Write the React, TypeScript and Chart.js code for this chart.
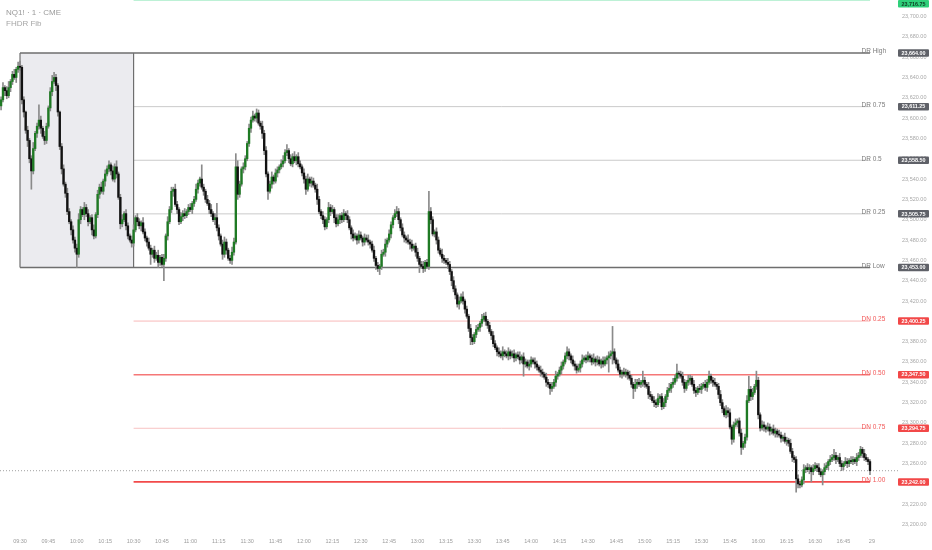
import React, { useEffect, useRef } from 'react';
import { Chart, registerables } from 'chart.js';

Chart.register(...registerables);

// ---------- DATA ----------
// minutes relative to 09:30 of the first candle
const START_MINUTE = -10;
const FIRST_OPEN = 23612;

const closes = [
  23618, 23630, 23627, 23622, 23630, 23636, 23643, 23640, 23648, 23651,
  23650, 23618, 23606, 23588, 23578, 23560, 23548, 23570, 23585, 23592,
  23598, 23590, 23582, 23578, 23592, 23610, 23626, 23636, 23640, 23632,
  23606, 23572, 23550, 23535, 23526, 23508, 23498, 23490, 23480, 23472,
  23466, 23500, 23510, 23505, 23512, 23506, 23498, 23502, 23490, 23484,
  23505, 23525, 23532, 23528, 23538, 23545, 23550, 23554, 23548, 23540,
  23552, 23545, 23522, 23496, 23500, 23506, 23494, 23484, 23480, 23477,
  23490, 23502, 23498, 23494, 23497, 23488, 23482, 23478, 23472, 23466,
  23470, 23462, 23465, 23458, 23463, 23456, 23462, 23484, 23498, 23510,
  23528, 23530, 23515, 23510, 23498, 23503, 23506, 23504, 23508, 23512,
  23510, 23516, 23520, 23530, 23536, 23540, 23532, 23528, 23520, 23516,
  23510, 23506, 23500, 23502, 23492, 23484, 23476, 23466, 23478, 23470,
  23462, 23460, 23468, 23478, 23552, 23525, 23535, 23550, 23552, 23560,
  23575, 23590, 23598, 23602, 23600, 23605, 23595, 23592, 23585, 23568,
  23545, 23528, 23535, 23542, 23538, 23546, 23549, 23552, 23555, 23558,
  23566, 23568, 23560, 23555, 23562, 23558, 23562, 23555, 23552, 23546,
  23540, 23530, 23540, 23536, 23538, 23534, 23530, 23520, 23508, 23504,
  23500, 23493, 23500, 23512, 23508, 23510, 23502, 23496, 23500, 23504,
  23500, 23506, 23504, 23500, 23492, 23486, 23482, 23484, 23480, 23485,
  23482, 23478, 23482, 23480, 23478, 23476, 23470, 23462, 23455, 23452,
  23454, 23466, 23468, 23476, 23480, 23486, 23495, 23502, 23506, 23508,
  23500, 23492, 23485, 23482, 23480, 23478, 23476, 23472, 23474, 23468,
  23462, 23456, 23454, 23452, 23458, 23454, 23508, 23500, 23486, 23488,
  23480, 23470, 23466, 23462, 23460, 23458, 23456, 23449, 23440, 23432,
  23426, 23417, 23420, 23424, 23420, 23412, 23405, 23393, 23384, 23380,
  23387, 23392, 23394, 23398, 23402, 23405, 23400, 23396, 23390, 23386,
  23378, 23374, 23370, 23368, 23366, 23370, 23368, 23366, 23370, 23366,
  23368, 23364, 23367, 23365, 23362, 23365, 23358, 23360, 23356, 23358,
  23362, 23360, 23358, 23355, 23352, 23350, 23348, 23345, 23340, 23338,
  23334, 23336, 23340, 23346, 23348, 23352, 23356, 23360, 23366, 23370,
  23366, 23362, 23358, 23356, 23352, 23354, 23358, 23362, 23364, 23362,
  23366, 23364, 23360, 23363, 23360, 23362, 23358, 23361, 23358, 23362,
  23364, 23366, 23368, 23370, 23362, 23358, 23352, 23348, 23350, 23348,
  23350, 23347, 23344, 23338, 23334, 23338, 23340, 23338, 23340, 23342,
  23338, 23336, 23328, 23326, 23322, 23320, 23318, 23324, 23326, 23316,
  23320, 23326, 23332, 23334, 23338, 23340, 23344, 23349, 23348, 23346,
  23340, 23334, 23340, 23342, 23344, 23338, 23332, 23330, 23334, 23333,
  23336, 23338, 23335, 23340, 23346, 23342, 23340, 23338, 23336, 23328,
  23320, 23314, 23308, 23312, 23310, 23296, 23284, 23298, 23300, 23302,
  23290, 23276, 23280, 23286, 23322, 23333, 23326, 23330, 23336, 23342,
  23308, 23295, 23298, 23296, 23294, 23296, 23292, 23294, 23290, 23292,
  23289, 23288, 23285, 23286, 23282, 23283, 23280, 23272, 23266, 23264,
  23245, 23240, 23239, 23244, 23254, 23256, 23254, 23256, 23252, 23255,
  23258, 23256, 23252, 23249, 23252, 23256, 23258, 23262, 23264, 23266,
  23268, 23264, 23266, 23260, 23257, 23260, 23262, 23260, 23263, 23262,
  23264, 23262, 23266, 23268, 23274, 23270, 23266, 23264, 23262, 23253,
];

// upper wick length (points above the body)
const upperWicks = [
  3, 5, 2, 4, 6, 2, 3, 5, 2, 4,
  5, 2, 3, 1, 4, 2, 3, 6, 2, 3,
  15, 4, 2, 5, 3, 2, 4, 6, 5, 3,
  2, 1, 3, 4, 2, 5, 3, 2, 4, 3,
  4, 6, 3, 2, 5, 3, 4, 2, 3, 5,
  2, 4, 3, 5, 2, 4, 3, 4, 2, 5,
  3, 6, 2, 3, 5, 2, 4, 3, 2, 4,
  5, 2, 4, 3, 2, 5, 3, 2, 4, 3,
  2, 4, 3, 5, 2, 3, 4, 2, 5, 3,
  4, 2, 5, 3, 2, 4, 3, 5, 2, 3,
  4, 2, 3, 5, 3, 2, 14, 3, 2, 4,
  3, 5, 2, 4, 14, 3, 2, 4, 5, 3,
  2, 3, 5, 4, 13, 6, 3, 2, 4, 3,
  2, 4, 3, 5, 2, 4, 3, 2, 5, 3,
  4, 2, 3, 5, 2, 4, 3, 2, 4, 5,
  3, 6, 2, 4, 3, 5, 2, 4, 3, 2,
  4, 3, 5, 2, 4, 3, 2, 5, 3, 2,
  4, 3, 2, 5, 3, 4, 2, 3, 5, 2,
  3, 4, 2, 5, 3, 2, 4, 3, 2, 4,
  3, 2, 4, 3, 5, 2, 3, 4, 2, 3,
  2, 4, 3, 5, 2, 4, 3, 2, 4, 5,
  3, 2, 4, 3, 2, 5, 3, 4, 2, 3,
  4, 2, 3, 5, 2, 3, 20, 4, 3, 2,
  4, 3, 2, 5, 3, 2, 4, 3, 2, 4,
  3, 2, 4, 3, 5, 2, 3, 2, 4, 3,
  2, 4, 3, 2, 5, 3, 4, 2, 3, 2,
  4, 3, 2, 4, 3, 5, 2, 3, 4, 2,
  3, 4, 2, 3, 5, 2, 4, 3, 2, 4,
  3, 2, 4, 3, 2, 4, 3, 2, 4, 3,
  2, 4, 3, 5, 2, 3, 4, 2, 3, 5,
  3, 2, 4, 3, 2, 4, 3, 5, 2, 3,
  4, 2, 3, 5, 2, 4, 3, 2, 4, 3,
  2, 4, 3, 25, 3, 2, 4, 3, 2, 4,
  3, 2, 4, 3, 2, 5, 3, 4, 2, 9,
  3, 2, 4, 3, 2, 4, 3, 5, 2, 3,
  4, 2, 3, 5, 2, 4, 3, 9, 2, 3,
  4, 3, 2, 5, 3, 2, 4, 3, 2, 4,
  3, 2, 4, 3, 5, 2, 3, 4, 2, 3,
  4, 3, 2, 5, 3, 4, 2, 3, 4, 2,
  3, 4, 2, 3, 5, 13, 3, 4, 2, 9,
  3, 2, 4, 3, 2, 4, 3, 2, 4, 3,
  2, 4, 3, 2, 4, 3, 2, 4, 3, 2,
  3, 4, 2, 3, 5, 2, 4, 3, 2, 4,
  3, 2, 4, 3, 2, 4, 3, 2, 4, 3,
  6, 3, 2, 4, 3, 2, 4, 3, 2, 4,
  3, 2, 4, 3, 3, 2, 4, 3, 2, 2,
];

// lower wick length (points below the body)
const lowerWicks = [
  4, 2, 5, 3, 2, 4, 3, 2, 5, 3,
  3, 4, 5, 3, 6, 4, 18, 3, 2, 4,
  3, 5, 2, 4, 3, 2, 3, 4, 2, 5,
  4, 3, 5, 2, 4, 3, 2, 5, 3, 4,
  13, 3, 4, 2, 5, 3, 4, 2, 5, 3,
  2, 3, 4, 2, 3, 5, 2, 3, 4, 2,
  3, 4, 2, 5, 3, 2, 4, 3, 2, 4,
  3, 2, 4, 3, 5, 2, 3, 4, 2, 10,
  3, 4, 2, 5, 3, 2, 16, 3, 4, 2,
  3, 5, 2, 4, 3, 2, 4, 3, 2, 3,
  2, 4, 3, 2, 4, 3, 2, 4, 3, 2,
  4, 3, 2, 5, 3, 4, 2, 5, 3, 4,
  2, 3, 4, 3, 2, 5, 3, 2, 4, 3,
  2, 3, 4, 2, 3, 4, 2, 3, 5, 4,
  3, 8, 2, 4, 3, 2, 4, 3, 2, 3,
  2, 3, 4, 2, 3, 2, 4, 3, 2, 3,
  4, 5, 2, 3, 4, 2, 3, 5, 2, 3,
  4, 3, 2, 3, 4, 2, 5, 3, 2, 4,
  3, 2, 4, 3, 2, 5, 3, 2, 4, 3,
  2, 4, 3, 2, 3, 4, 2, 3, 4, 3,
  6, 3, 2, 4, 3, 2, 4, 3, 2, 3,
  4, 3, 2, 4, 3, 2, 5, 3, 2, 4,
  3, 8, 2, 4, 3, 2, 3, 4, 2, 3,
  4, 3, 2, 4, 3, 2, 4, 3, 5, 3,
  4, 3, 5, 2, 3, 4, 2, 3, 7, 3,
  2, 3, 2, 4, 3, 2, 4, 3, 2, 4,
  3, 2, 4, 3, 2, 4, 3, 2, 4, 3,
  2, 4, 3, 2, 4, 3, 12, 3, 2, 4,
  3, 2, 4, 3, 2, 4, 3, 2, 4, 3,
  6, 3, 2, 4, 3, 2, 4, 3, 2, 3,
  4, 3, 2, 4, 3, 2, 4, 3, 2, 3,
  2, 4, 3, 2, 4, 3, 2, 4, 3, 2,
  4, 14, 3, 10, 3, 4, 2, 3, 4, 2,
  3, 4, 2, 3, 10, 3, 4, 2, 3, 4,
  3, 2, 4, 3, 2, 4, 3, 2, 4, 3,
  2, 4, 3, 2, 4, 3, 2, 3, 4, 2,
  3, 4, 2, 3, 4, 2, 3, 4, 2, 3,
  4, 2, 3, 4, 2, 3, 4, 2, 3, 4,
  3, 4, 2, 3, 4, 2, 5, 3, 2, 4,
  3, 7, 2, 4, 3, 2, 4, 3, 2, 3,
  4, 3, 2, 4, 3, 2, 4, 3, 2, 4,
  3, 2, 4, 3, 2, 4, 3, 2, 4, 3,
  13, 4, 3, 2, 4, 3, 2, 4, 10, 3,
  2, 4, 3, 2, 10, 3, 2, 4, 3, 2,
  3, 4, 2, 3, 4, 3, 2, 4, 3, 2,
  3, 2, 4, 3, 2, 4, 3, 2, 3, 4,
];

const xTickValues = [0, 15, 30, 45, 60, 75, 90, 105, 120, 135, 150, 165, 180, 195, 210, 225, 240, 255, 270, 285, 300, 315, 330, 345, 360, 375, 390, 405, 420, 435, 450];
const xTickLabels = ['09:30', '09:45', '10:00', '10:15', '10:30', '10:45', '11:00', '11:15', '11:30', '11:45', '12:00', '12:15', '12:30', '12:45', '13:00', '13:15', '13:30', '13:45', '14:00', '14:15', '14:30', '14:45', '15:00', '15:15', '15:30', '15:45', '16:00', '16:15', '16:30', '16:45', '29'];
const yTickValues = [23200, 23220, 23240, 23260, 23280, 23300, 23320, 23340, 23360, 23380, 23400, 23420, 23440, 23460, 23480, 23500, 23520, 23540, 23560, 23580, 23600, 23620, 23640, 23660, 23680, 23700];

const levelNames = ['DR High', 'DR 0.75', 'DR 0.5', 'DR 0.25', 'DR Low', 'DN 0.25', 'DN 0.50', 'DN 0.75', 'DN 1.00'];
const levelValues = [23664, 23611.25, 23558.5, 23505.75, 23453, 23400.25, 23347.5, 23294.75, 23242];
const levelStarts = [0, 60, 60, 60, 0, 60, 60, 60, 60];
const upLevelValue = 23716.75;
const upLevelStart = 60;
const rangeStartMinute = 0;
const rangeEndMinute = 60;

// ---------- STYLES ----------
const X_MIN = -10.57;
const X_MAX = 463.8;
const Y_MAX = 23716.2;
const Y_MIN = 23191.7;
const UP_COLOR = '#1f7a24';
const DOWN_COLOR = '#121212';
const WICK_COLOR = '#8a8a8a';
const levelLineColors = ['#6e6e6e', '#cacaca', '#cacaca', '#cacaca', '#6e6e6e', '#f8b8b8', '#f57777', '#f8c2c2', '#f24a4a'];
const levelLineWidths = [1.5, 1, 1, 1, 1.5, 1, 1.5, 1, 1.8];
const levelTextColors = ['#7c7c7c', '#7c7c7c', '#7c7c7c', '#7c7c7c', '#7c7c7c', '#f25858', '#f25858', '#f25858', '#f25858'];
const levelBadgeColors = ['#5f6168', '#5f6168', '#5f6168', '#5f6168', '#5f6168', '#f24848', '#f24848', '#f24848', '#f24848'];
const FONT = '"Liberation Sans", Arial, sans-serif';

const fmt = (v: number) =>
  v.toLocaleString('en-US', { minimumFractionDigits: 2, maximumFractionDigits: 2 });

export default function App() {
  const canvasRef = useRef<HTMLCanvasElement | null>(null);

  useEffect(() => {
    if (!canvasRef.current) return;
    const times = closes.map((_, i) => START_MINUTE + i);
    const opens = closes.map((_, i) => (i === 0 ? FIRST_OPEN : closes[i - 1]));
    const highs = closes.map((c, i) => Math.max(opens[i], c) + upperWicks[i]);
    const lows = closes.map((c, i) => Math.min(opens[i], c) - lowerWicks[i]);
    const lastT = times[times.length - 1];
    const lastClose = closes[closes.length - 1];
    const drHigh = levelValues[0];
    const drLow = levelValues[4];

    const lineDs = (data: { x: number; y: number }[], color: string, width: number, order: number, extra: any = {}) => ({
      type: 'line' as const,
      data,
      borderColor: color,
      borderWidth: width,
      pointRadius: 0,
      tension: 0,
      fill: false,
      order,
      ...extra,
    });

    const datasets: any[] = [
      {
        type: 'bar',
        data: times.map((t, i) => ({ x: t, y: [opens[i], closes[i]] })),
        backgroundColor: closes.map((c, i) => (c >= opens[i] ? UP_COLOR : DOWN_COLOR)),
        barThickness: 1.7,
        minBarLength: 1,
        grouped: false,
        order: 1,
      },
      {
        type: 'bar',
        data: times.map((t, i) => ({ x: t, y: [lows[i], highs[i]] })),
        backgroundColor: WICK_COLOR,
        barThickness: 1,
        grouped: false,
        order: 2,
      },
      // range box fill (top + bottom pair)
      lineDs([{ x: rangeStartMinute, y: drHigh }, { x: rangeEndMinute, y: drHigh }], 'rgba(0,0,0,0)', 0, 30, {
        fill: '+1',
        backgroundColor: '#ebebef',
      }),
      lineDs([{ x: rangeStartMinute, y: drLow }, { x: rangeEndMinute, y: drLow }], 'rgba(0,0,0,0)', 0, 31),
      lineDs([{ x: rangeStartMinute, y: drLow }, { x: rangeStartMinute, y: drHigh }], '#6e6e6e', 1.2, 5),
      lineDs([{ x: rangeEndMinute, y: drLow }, { x: rangeEndMinute, y: drHigh }], '#6e6e6e', 1.2, 5),
      lineDs([{ x: upLevelStart, y: upLevelValue }, { x: lastT, y: upLevelValue }], '#bdf1d6', 3, 6, { clip: false }),
      lineDs([{ x: X_MIN, y: lastClose }, { x: X_MAX, y: lastClose }], '#a0a0a0', 1, 4, { borderDash: [1, 2] }),
    ];
    levelValues.forEach((v, i) => {
      datasets.push(lineDs([{ x: levelStarts[i], y: v }, { x: lastT, y: v }], levelLineColors[i], levelLineWidths[i], 6));
    });

    const overlay = {
      id: 'levelOverlay',
      afterDatasetsDraw(chart: any) {
        const { ctx, scales } = chart;
        const xs = scales.x;
        const ys = scales.y;
        ctx.save();
        ctx.font = `6.5px ${FONT}`;
        ctx.textAlign = 'left';
        ctx.textBaseline = 'alphabetic';
        levelNames.forEach((name, i) => {
          ctx.fillStyle = levelTextColors[i];
          ctx.fillText(name, xs.getPixelForValue(lastT) - 8.5, ys.getPixelForValue(levelValues[i]) + 0.3);
        });
        ctx.restore();
      },
      afterDraw(chart: any) {
        const { ctx, scales, chartArea } = chart;
        const ys = scales.y;
        const left = chartArea.right;
        const w = 31;
        const h = 7.5;
        const drawBadge = (value: number, bg: string, fg: string) => {
          let cy = ys.getPixelForValue(value);
          cy = Math.max(cy, h / 2);
          ctx.fillStyle = bg;
          ctx.beginPath();
          (ctx as any).roundRect(left, cy - h / 2, w, h, 1);
          ctx.fill();
          ctx.fillStyle = fg;
          ctx.font = `bold 5.4px ${FONT}`;
          ctx.textAlign = 'center';
          ctx.textBaseline = 'middle';
          ctx.fillText(fmt(value), left + w / 2, cy + 0.3);
        };
        ctx.save();
        drawBadge(upLevelValue, '#2fd07a', '#0f3b22');
        levelValues.forEach((v, i) => drawBadge(v, levelBadgeColors[i], '#ffffff'));
        ctx.restore();
      },
    };

    const chart = new Chart(canvasRef.current, {
      type: 'bar',
      data: { datasets },
      options: {
        animation: false,
        responsive: false,
        maintainAspectRatio: false,
        events: [],
        layout: { padding: 0 },
        plugins: { legend: { display: false }, tooltip: { enabled: false } },
        scales: {
          x: {
            type: 'linear',
            min: X_MIN,
            max: X_MAX,
            offset: false,
            grid: { display: false, drawTicks: false },
            border: { display: false },
            afterBuildTicks: (s: any) => {
              s.ticks = xTickValues.map((v) => ({ value: v }));
            },
            afterFit: (s: any) => {
              s.height = 17;
              s.paddingLeft = 0;
              s.paddingRight = 0;
            },
            ticks: {
              autoSkip: false,
              maxRotation: 0,
              padding: 5.5,
              color: '#9c9c9c',
              font: { family: FONT, size: 5.5 },
              callback: (v: any) => {
                const idx = xTickValues.indexOf(Number(v));
                return idx >= 0 ? xTickLabels[idx] : '';
              },
            },
          },
          y: {
            type: 'linear',
            position: 'right',
            min: Y_MIN,
            max: Y_MAX,
            grid: { display: false, drawTicks: false },
            border: { display: false },
            afterBuildTicks: (s: any) => {
              s.ticks = yTickValues.map((v) => ({ value: v }));
            },
            afterFit: (s: any) => {
              s.width = 34;
              s.paddingTop = 0;
              s.paddingBottom = 0;
            },
            ticks: {
              padding: 4,
              color: '#a8a8a8',
              font: { family: FONT, size: 5.5 },
              callback: (v: any) => fmt(Number(v)),
            },
          },
        },
      } as any,
      plugins: [overlay],
    });
    return () => chart.destroy();
  }, []);

  return (
    <div style={{ position: 'relative', width: 932, height: 550, background: '#ffffff' }}>
      <style>{'body{margin:0;}'}</style>
      <canvas ref={canvasRef} width={932} height={550} style={{ display: 'block', width: 932, height: 550 }} />
      <div
        style={{
          position: 'absolute',
          left: 6,
          top: 6.5,
          fontFamily: FONT,
          fontSize: 8,
          lineHeight: '11px',
          color: '#9a9a9a',
          pointerEvents: 'none',
        }}
      >
        <div>NQ1! · 1 · CME</div>
        <div style={{ color: '#a6a6a6' }}>FHDR Fib</div>
      </div>
    </div>
  );
}
